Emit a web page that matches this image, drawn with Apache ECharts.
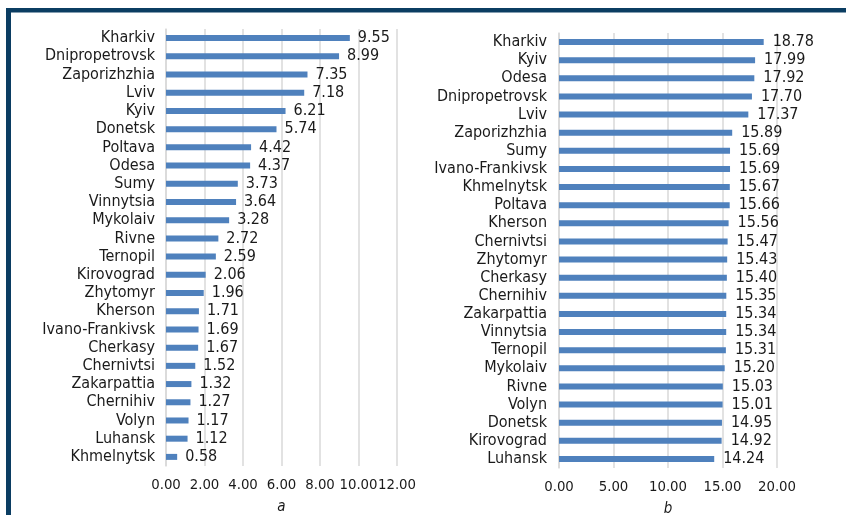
<!DOCTYPE html>
<html>
<head>
<meta charset="utf-8">
<script src="https://cdn.jsdelivr.net/npm/echarts@6/dist/echarts.min.js"></script>
<style>
  html, body { margin: 0; padding: 0; background: #fff; }
  #chart { width: 846px; height: 515px; }
</style>
</head>
<body>
<div id="chart"></div>
<script>
// Panel a: regions ranked by share (top to bottom)
const regionsA = ['Kharkiv', 'Dnipropetrovsk', 'Zaporizhzhia', 'Lviv', 'Kyiv', 'Donetsk', 'Poltava', 'Odesa',
  'Sumy', 'Vinnytsia', 'Mykolaiv', 'Rivne', 'Ternopil', 'Kirovograd', 'Zhytomyr', 'Kherson',
  'Ivano-Frankivsk', 'Cherkasy', 'Chernivtsi', 'Zakarpattia', 'Chernihiv', 'Volyn', 'Luhansk', 'Khmelnytsk'];
const valuesA = [9.55, 8.99, 7.35, 7.18, 6.21, 5.74, 4.42, 4.37, 3.73, 3.64, 3.28, 2.72, 2.59, 2.06, 1.96, 1.71,
  1.69, 1.67, 1.52, 1.32, 1.27, 1.17, 1.12, 0.58];

// Panel b
const regionsB = ['Kharkiv', 'Kyiv', 'Odesa', 'Dnipropetrovsk', 'Lviv', 'Zaporizhzhia', 'Sumy', 'Ivano-Frankivsk',
  'Khmelnytsk', 'Poltava', 'Kherson', 'Chernivtsi', 'Zhytomyr', 'Cherkasy', 'Chernihiv', 'Zakarpattia',
  'Vinnytsia', 'Ternopil', 'Mykolaiv', 'Rivne', 'Volyn', 'Donetsk', 'Kirovograd', 'Luhansk'];
const valuesB = [18.78, 17.99, 17.92, 17.70, 17.37, 15.89, 15.69, 15.69, 15.67, 15.66, 15.56, 15.47, 15.43, 15.40,
  15.35, 15.34, 15.34, 15.31, 15.20, 15.03, 15.01, 14.95, 14.92, 14.24];

const axisA = { min: 0, max: 12, interval: 2 };
const axisB = { min: 0, max: 20, interval: 5 };
const panelTitles = ['a', 'b'];

const FONT = '"DejaVu Sans Condensed", "Liberation Sans Narrow", sans-serif';
const FS = 16;
const TICK_FS = 14.8;
const TEXT = '#1a1a1a';
const BAR = '#4f81bd';
const GRID = '#d9d9d9';

function valueAxis(idx, cfg, name) {
  return {
    type: 'value', gridIndex: idx, min: cfg.min, max: cfg.max, interval: cfg.interval,
    axisLine: { show: false }, axisTick: { show: false },
    splitLine: { show: true, lineStyle: { color: GRID, width: 1.5 } },
    axisLabel: {
      formatter: v => v.toFixed(2), color: TEXT, fontFamily: FONT, fontSize: TICK_FS, margin: 12,
      showMinLabel: true, showMaxLabel: true, hideOverlap: false
    },
    name: name, nameLocation: 'middle', nameGap: 34,
    nameTextStyle: { fontFamily: FONT, fontSize: 15, fontStyle: 'italic', color: TEXT }
  };
}
function catAxis(idx, cats, margin) {
  return {
    type: 'category', gridIndex: idx, data: cats, inverse: true,
    axisLine: { show: true, lineStyle: { color: GRID, width: 1.5 } },
    axisTick: { show: false },
    axisLabel: { color: TEXT, fontFamily: FONT, fontSize: FS, margin: margin, interval: 0 }
  };
}
function barSeries(idx, vals, offset) {
  return {
    type: 'bar', xAxisIndex: idx, yAxisIndex: idx, data: vals, barWidth: 6,
    itemStyle: { color: BAR },
    label: {
      show: true, position: 'right', distance: offset,
      formatter: p => p.value.toFixed(2),
      color: TEXT, fontFamily: FONT, fontSize: FS
    },
    silent: true, animation: false
  };
}

const chart = echarts.init(document.getElementById('chart'), null, { renderer: 'canvas' });
chart.setOption({
  backgroundColor: '#ffffff',
  animation: false,
  grid: [
    { left: 166, width: 231, top: 29, height: 437, containLabel: false, outerBoundsMode: 'none' },
    { left: 559, width: 218, top: 33, height: 435, containLabel: false, outerBoundsMode: 'none' }
  ],
  xAxis: [valueAxis(0, axisA, panelTitles[0]), valueAxis(1, axisB, panelTitles[1])],
  yAxis: [catAxis(0, regionsA, 11), catAxis(1, regionsB, 12)],
  series: [barSeries(0, valuesA, 8), barSeries(1, valuesB, 9)],
  graphic: [
    { type: 'rect', shape: { x: 6, y: 8, width: 840, height: 4.5 }, style: { fill: '#0b3d62' }, silent: true },
    { type: 'rect', shape: { x: 6, y: 8, width: 5, height: 507 }, style: { fill: '#0b3d62' }, silent: true }
  ]
});
</script>
</body>
</html>
